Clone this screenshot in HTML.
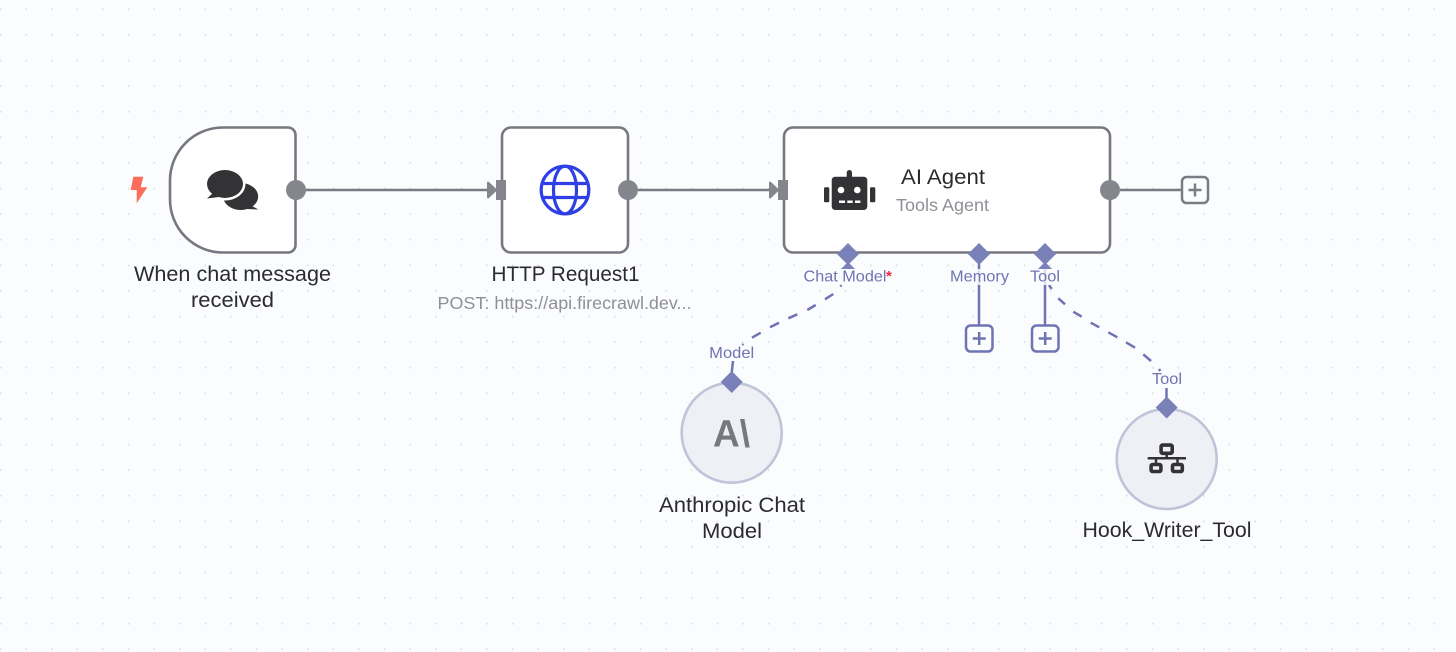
<!DOCTYPE html>
<html><head><meta charset="utf-8"><style>
html,body{margin:0;padding:0;background:#fbfcfe;width:1456px;height:652px;overflow:hidden}
svg{display:block}
text{font-family:"Liberation Sans",sans-serif}
.l{font-size:21.5px;fill:#2b2b2f;text-anchor:middle}
.s{font-size:16px;fill:#6f74b4;text-anchor:middle}
</style></head><body>
<svg width="1456" height="652" viewBox="0 0 1456 652" xmlns="http://www.w3.org/2000/svg">
<defs><pattern id="d" x="0.67" y="9.3" width="25.6" height="25.6" patternUnits="userSpaceOnUse"><circle cx="0" cy="0" r="0.8" fill="#cfd1d6"/><circle cx="25.6" cy="0" r="0.8" fill="#cfd1d6"/><circle cx="0" cy="25.6" r="0.8" fill="#cfd1d6"/><circle cx="25.6" cy="25.6" r="0.8" fill="#cfd1d6"/></pattern></defs>
<rect width="1456" height="652" fill="#fbfcfe"/>
<rect width="1456" height="652" fill="url(#d)"/>

<!-- main connectors -->
<g stroke="#7b7b83" stroke-width="2.6" fill="none">
<path d="M306 190H488"/><path d="M638 190H770"/><path d="M1120 190H1182"/>
</g>

<!-- nodes -->
<path d="M223 127.5H288a7.5 7.5 0 0 1 7.500 7.500V245a7.5 7.5 0 0 1-7.500 7.500H223A53 53 0 0 1 170 199.500V180.500A53 53 0 0 1 223 127.500Z" fill="#fff" stroke="#77777f" stroke-width="2.6"/>
<rect x="502" y="127.500" width="126" height="125" rx="9" fill="#fff" stroke="#77777f" stroke-width="2.6"/>
<rect x="784" y="127.500" width="326" height="125" rx="9" fill="#fff" stroke="#77777f" stroke-width="2.6"/>
<circle cx="731.7" cy="432.700" r="50" fill="#eff0f5" stroke="#c0c4d8" stroke-width="2.6"/>
<circle cx="1166.700" cy="459" r="50" fill="#eff0f5" stroke="#c0c4d8" stroke-width="2.6"/>

<!-- ports -->
<g fill="#85858d">
<circle cx="296" cy="190" r="10"/><circle cx="628" cy="190" r="10"/><circle cx="1110" cy="190" r="10"/>
<rect x="496" y="180" width="10" height="20"/><rect x="778" y="180" width="10" height="20"/>
<path d="M488 182.500L496 190L488 197.500Z" stroke="#85858d" stroke-width="2" stroke-linejoin="round"/>
<path d="M770 182.500L778 190L770 197.500Z" stroke="#85858d" stroke-width="2" stroke-linejoin="round"/>
</g>

<!-- plus right -->
<rect x="1182" y="177" width="26" height="26" rx="4.500" fill="#fbfcfe" stroke="#7b7b83" stroke-width="2.500"/>
<path d="M1195 183.500V196.500M1188.500 190H1201.500" stroke="#7b7b83" stroke-width="2.500"/>

<!-- supply connectors -->
<g stroke="#6f74b4" stroke-width="2.500" fill="none">
<path d="M979 262V325.500"/><path d="M1045 262V325.500"/>
<path d="M841.700 285L840 286M833.300 294L825 299.300M815.700 305L807.300 310M797.300 314.300L788.300 318.300M779 322.700L770 327.300M760.700 332.700L752 337.700M743.300 344L742.300 345"/>
<path d="M1049 285L1051.700 289M1058.300 298.300L1065 304.300M1073.300 311.700L1081.700 316.700M1090.700 322.700L1099.300 327.300M1108.300 332.300L1117.300 337.300M1126 342.300L1135 347.700M1143.300 354.300L1151 361M1159 369L1160.300 371"/>
<path d="M733 361L731.700 373"/><path d="M1166.500 388V399"/>
</g>
<rect x="966" y="325.500" width="26.500" height="26" rx="4.500" fill="#fbfcfe" stroke="#6f74b4" stroke-width="2.500"/>
<path d="M979.200 332V345M972.700 338.500H985.700" stroke="#6f74b4" stroke-width="2.500"/>
<rect x="1032" y="325.500" width="26.500" height="26" rx="4.500" fill="#fbfcfe" stroke="#6f74b4" stroke-width="2.500"/>
<path d="M1045.200 332V345M1038.700 338.500H1051.700" stroke="#6f74b4" stroke-width="2.500"/>

<!-- diamonds -->
<g fill="#7a80b8">
<path d="M848 243L859 254L848 265L837 254Z"/>
<path d="M979 243L990 254L979 265L968 254Z"/>
<path d="M1045 243L1056 254L1045 265L1034 254Z"/>
<path d="M731.700 371L742.700 382L731.700 393L720.700 382Z"/>
<path d="M1166.700 396.500L1177.700 407.500L1166.700 418.500L1155.700 407.500Z"/>
<path d="M848 262L855 269H841Z"/><path d="M1045 262L1052 269H1038Z"/>
</g>

<!-- label halos -->
<g fill="#fbfcfe" opacity="0.8">
<rect x="803" y="269" width="90" height="16"/>
<rect x="950" y="269" width="60" height="16"/>
<rect x="1030" y="269" width="31" height="16"/>
</g>

<!-- bolt -->
<path d="M133.300 176.700H143.300L140.700 187.300H147.300L136.700 203.300V190H130.700Z" fill="#ff6d5a"/>

<!-- chat icon -->
<ellipse cx="240.700" cy="196.500" rx="17.500" ry="13.500" fill="#333335"/>
<path d="M250 205L258.500 209.500L247 209Z" fill="#333335"/>
<ellipse cx="225" cy="184" rx="20.500" ry="16.500" fill="#fff"/>
<ellipse cx="225" cy="184" rx="18" ry="14" fill="#333335"/>
<path d="M213 193L207 198.500L219 197Z" fill="#333335"/>

<!-- globe -->
<g fill="none" stroke="#2f3fe6" stroke-width="3.200">
<circle cx="565" cy="190" r="23.800"/><ellipse cx="565" cy="190" rx="11.500" ry="23.800"/>
<path d="M543.500 183.500H586.500M543.500 197.500H586.500"/>
</g>

<!-- robot -->
<g fill="#333335">
<rect x="846.700" y="170" width="5.300" height="9" rx="2.600"/>
<rect x="831.700" y="176.700" width="35.600" height="33.300" rx="3.500"/>
<rect x="824" y="187.300" width="5.300" height="15" rx="1.200"/>
<rect x="870" y="187.300" width="5.300" height="15" rx="1.200"/>
</g>
<g fill="#fff"><circle cx="841" cy="190" r="3.300"/><circle cx="857.300" cy="190" r="3.300"/>
<rect x="839" y="200.500" width="6" height="2.500"/><rect x="847.300" y="200.500" width="5.400" height="2.500"/><rect x="855" y="200.500" width="5.400" height="2.500"/></g>

<!-- network -->
<g fill="none" stroke="#333335">
<rect x="1161.100" y="445.100" width="11.100" height="8.200" rx="1.500" stroke-width="3.600"/>
<rect x="1151.100" y="464.500" width="9.800" height="7" rx="1.500" stroke-width="3.600"/>
<rect x="1172.500" y="464.500" width="9.800" height="7" rx="1.500" stroke-width="3.600"/>
<path d="M1147.700 458.300H1186" stroke-width="2.500"/>
<path d="M1166.700 454V458.300M1156 458.300V463M1177.500 458.300V463" stroke-width="2.500"/>
</g>

<!-- anthropic mark -->
<text x="713" y="446.700" font-size="38" font-weight="700" fill="#77777f" textLength="37" lengthAdjust="spacingAndGlyphs">A\</text>

<!-- labels -->
<text class="l" x="232.500" y="281" textLength="197" lengthAdjust="spacingAndGlyphs">When chat message</text>
<text class="l" x="232.500" y="307" textLength="83" lengthAdjust="spacingAndGlyphs">received</text>
<text class="l" x="565.500" y="281" textLength="148" lengthAdjust="spacingAndGlyphs">HTTP Request1</text>
<text x="564.500" y="309" font-size="17.500" fill="#8f8f96" text-anchor="middle" textLength="254" lengthAdjust="spacingAndGlyphs">POST: https://api.firecrawl.dev...</text>
<text class="l" x="943" y="184" textLength="84" lengthAdjust="spacingAndGlyphs">AI Agent</text>
<text x="942.500" y="211" font-size="17.500" fill="#8f8f96" text-anchor="middle" textLength="93" lengthAdjust="spacingAndGlyphs">Tools Agent</text>
<text class="l" x="732" y="512" textLength="146" lengthAdjust="spacingAndGlyphs">Anthropic Chat</text>
<text class="l" x="732" y="538" textLength="60" lengthAdjust="spacingAndGlyphs">Model</text>
<text class="l" x="1167" y="537" textLength="169" lengthAdjust="spacingAndGlyphs">Hook_Writer_Tool</text>

<text class="s" x="845" y="281.500" textLength="83" lengthAdjust="spacingAndGlyphs">Chat Model</text>
<text x="886" y="281" font-size="15" font-weight="700" fill="#f0243c">*</text>
<text class="s" x="979.500" y="281.500" textLength="59" lengthAdjust="spacingAndGlyphs">Memory</text>
<text class="s" x="1045" y="281.500" textLength="30" lengthAdjust="spacingAndGlyphs">Tool</text>
<text class="s" x="731.700" y="358" textLength="45" lengthAdjust="spacingAndGlyphs">Model</text>
<text class="s" x="1167" y="384" textLength="30" lengthAdjust="spacingAndGlyphs">Tool</text>
</svg>
</body></html>
